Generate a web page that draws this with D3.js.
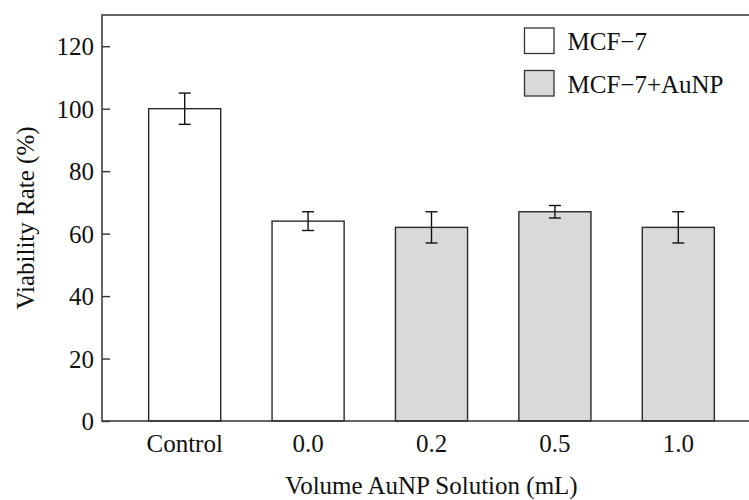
<!DOCTYPE html>
<html>
<head>
<meta charset="utf-8">
<script src="https://cdn.jsdelivr.net/npm/d3@7"></script>
<style>
  html, body { margin: 0; padding: 0; background: #fff; }
  svg { display: block; }
</style>
</head>
<body>
<svg id="chart" width="749" height="500" font-family="'Liberation Serif', 'Times New Roman', Tinos, 'DejaVu Serif', serif"></svg>
<script>
// Cell viability data
const categories = ["Control", "0.0", "0.2", "0.5", "1.0"];
const viability = [100, 64, 62, 67, 62];
const errors = [5, 3, 5, 2, 5];
const groups = ["MCF\u22127", "MCF\u22127", "MCF\u22127+AuNP", "MCF\u22127+AuNP", "MCF\u22127+AuNP"];
const legendLabels = ["MCF\u22127", "MCF\u22127+AuNP"];
const yTicks = [0, 20, 40, 60, 80, 100, 120];

const svg = d3.select("#chart");
const margin = { left: 102, top: 15, right: 761, bottom: 421 };
const fontSize = 25;
const textColor = "#111";

const x = d3.scalePoint().domain(categories).range([margin.left, margin.right]).padding(0.67);
const y = d3.scaleLinear().domain([0, 130]).range([margin.bottom, margin.top]);
const barWidth = x.step() * 0.584;

const color = d3.scaleOrdinal().domain(legendLabels).range(["#ffffff", "#d9d9d9"]);

// Bars
svg.append("g").selectAll("rect")
  .data(categories)
  .join("rect")
  .attr("x", (d) => x(d) - barWidth / 2)
  .attr("y", (d, i) => y(viability[i]))
  .attr("width", barWidth)
  .attr("height", (d, i) => y(0) - y(viability[i]))
  .attr("fill", (d, i) => color(groups[i]))
  .attr("stroke", "#2a2a2a")
  .attr("stroke-width", 1.4);

// Error bars
const capW = 12;
const eb = svg.append("g").attr("stroke", "#111").attr("stroke-width", 1.4);
categories.forEach((c, i) => {
  const cx = x(c), hi = y(viability[i] + errors[i]), lo = y(viability[i] - errors[i]);
  eb.append("line").attr("x1", cx).attr("x2", cx).attr("y1", hi).attr("y2", lo);
  eb.append("line").attr("x1", cx - capW / 2).attr("x2", cx + capW / 2).attr("y1", hi).attr("y2", hi);
  eb.append("line").attr("x1", cx - capW / 2).attr("x2", cx + capW / 2).attr("y1", lo).attr("y2", lo);
});

// Frame
svg.append("rect")
  .attr("x", margin.left).attr("y", margin.top)
  .attr("width", margin.right - margin.left).attr("height", margin.bottom - margin.top)
  .attr("stroke", "#333").attr("stroke-width", 1.5).attr("fill", "none");

// Y axis with inward ticks
const yAxis = d3.axisRight(y).tickValues(yTicks).tickSize(8).tickFormat(() => "");
const yg = svg.append("g").attr("transform", `translate(${margin.left},0)`).call(yAxis);
yg.select(".domain").remove();
yg.selectAll("line").attr("stroke", "#333").attr("stroke-width", 1.4);

svg.append("g").selectAll("text")
  .data(yTicks)
  .join("text")
  .attr("x", margin.left - 8)
  .attr("y", (d) => y(d))
  .attr("dy", "0.37em")
  .attr("text-anchor", "end")
  .attr("font-size", fontSize)
  .attr("fill", textColor)
  .text((d) => d);

// X category labels
svg.append("g").selectAll("text")
  .data(categories)
  .join("text")
  .attr("x", (d) => x(d))
  .attr("y", 452)
  .attr("text-anchor", "middle")
  .attr("font-size", fontSize)
  .attr("fill", textColor)
  .text((d) => d);

// Axis titles
svg.append("text")
  .attr("x", x(categories[2]))
  .attr("y", 494)
  .attr("text-anchor", "middle")
  .attr("font-size", fontSize)
  .attr("fill", textColor)
  .text("Volume AuNP Solution (mL)");

svg.append("text")
  .attr("transform", `translate(34,${(margin.top + margin.bottom) / 2}) rotate(-90)`)
  .attr("text-anchor", "middle")
  .attr("font-size", fontSize)
  .attr("fill", textColor)
  .text("Viability Rate (%)");

// Legend
const legend = svg.append("g").attr("transform", "translate(524.5,28)");
legendLabels.forEach((lab, i) => {
  const g = legend.append("g").attr("transform", `translate(0,${i * 42.5})`);
  g.append("rect").attr("width", 29.5).attr("height", 25.5)
    .attr("fill", color(lab)).attr("stroke", "#333").attr("stroke-width", 1.3);
  g.append("text").attr("x", 43).attr("y", 22).attr("font-size", fontSize)
    .attr("fill", textColor).text(lab);
});
</script>
</body>
</html>
